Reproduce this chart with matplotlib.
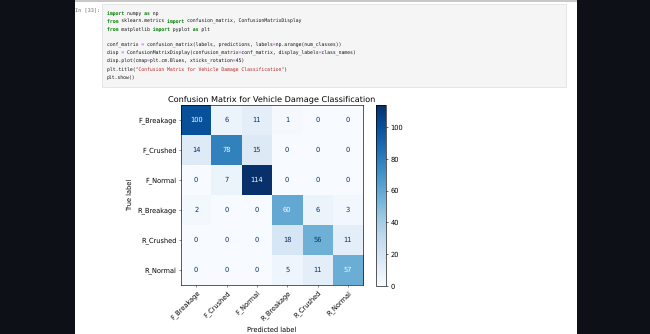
import re
import numpy as np
import matplotlib
matplotlib.use("Agg")
import matplotlib.pyplot as plt
from matplotlib.patches import Rectangle

plt.rcParams["text.hinting"] = "none"

# data
class_names = ["F_Breakage", "F_Crushed", "F_Normal", "R_Breakage", "R_Crushed", "R_Normal"]
row_f_breakage = [100, 6, 11, 1, 0, 0]
row_f_crushed = [14, 78, 15, 0, 0, 0]
row_f_normal = [0, 7, 114, 0, 0, 0]
row_r_breakage = [2, 0, 0, 60, 6, 3]
row_r_crushed = [0, 0, 0, 18, 56, 11]
row_r_normal = [0, 0, 0, 5, 11, 57]
cbar_ticks = [0, 20, 40, 60, 80, 100]

code_lines = [
    "import numpy as np",
    "from sklearn.metrics import confusion_matrix, ConfusionMatrixDisplay",
    "from matplotlib import pyplot as plt",
    "",
    "conf_matrix = confusion_matrix(labels, predictions, labels=np.arange(num_classes))",
    "disp = ConfusionMatrixDisplay(confusion_matrix=conf_matrix, display_labels=class_names)",
    "disp.plot(cmap=plt.cm.Blues, xticks_rotation=45)",
    'plt.title("Confusion Matrix for Vehicle Damage Classification")',
    "plt.show()",
]
prompt = "In [33]:"

W, H = 650, 334
fig = plt.figure(figsize=(W / 100, H / 100), dpi=100, facecolor="#0d1117")


def px_box(x0, y0, x1, y1):
    # pixel box (top-left origin) -> figure fraction rect
    return [x0 / W, 1 - y1 / H, (x1 - x0) / W, (y1 - y0) / H]


# notebook page + code cell
fig.patches.append(Rectangle((75 / W, 0), (577 - 75) / W, 1, transform=fig.transFigure,
                             facecolor="white", edgecolor="none", zorder=-3))
fig.patches.append(Rectangle((75 / W, 1 - 2 / H), (577 - 75) / W, 2 / H, transform=fig.transFigure,
                             facecolor="#c8c8c8", edgecolor="none", zorder=-2))
fig.patches.append(Rectangle((102 / W, 1 - 87 / H), (566 - 102) / W, (87 - 4) / H,
                             transform=fig.transFigure, facecolor="#f5f5f5",
                             edgecolor="#e3e3e3", linewidth=0.6, zorder=-2))

fig.text(100 / W, 1 - 12 / H, prompt, ha="right", va="baseline", fontsize=3.8,
         family="DejaVu Sans Mono", color="#6b6b6b")

# syntax colouring: one text per colour, other characters blanked with spaces,
# so every layer shares the same monospace layout
code_fs = 3.45
keywords = {"import", "from", "as"}
token_re = re.compile(r'("[^"]*"|\w+|=|.)')
styles = {
    "plain": dict(color="#111111", fontweight="normal"),
    "kw": dict(color="#008000", fontweight="bold"),
    "str": dict(color="#ba2121", fontweight="normal"),
    "op": dict(color="#aa22ff", fontweight="normal"),
}

for i, line in enumerate(code_lines):
    if not line:
        continue
    layers = {k: "" for k in styles}
    for tok in token_re.findall(line):
        if tok in keywords:
            kind = "kw"
        elif tok.startswith('"'):
            kind = "str"
        elif tok == "=":
            kind = "op"
        else:
            kind = "plain"
        for k in layers:
            layers[k] += tok if k == kind else " " * len(tok)
    y = 1 - (14.5 + i * 8.0) / H
    for k, s in layers.items():
        if s.strip():
            fig.text(107 / W, y, s, ha="left", va="baseline", fontsize=code_fs,
                     family="DejaVu Sans Mono", **styles[k])

# confusion matrix
cm = np.array([row_f_breakage, row_f_crushed, row_f_normal,
               row_r_breakage, row_r_crushed, row_r_normal])
n = len(class_names)
cmap = plt.cm.Blues
fs = 4.8

ax = fig.add_axes(px_box(181, 105, 363, 285))
im = ax.imshow(cm, cmap=cmap, interpolation="nearest", aspect="auto",
               vmin=cm.min(), vmax=cm.max())
thresh = (cm.max() + cm.min()) / 2.0
for r in range(n):
    for c in range(n):
        color = cmap(1.0) if cm[r, c] < thresh else cmap(0.0)
        ax.text(c, r, str(cm[r, c]), ha="center", va="center", fontsize=fs, color=color)

ax.set_xticks(np.arange(n))
ax.set_yticks(np.arange(n))
ax.set_xticklabels(class_names, rotation=45, ha="right", rotation_mode="anchor", fontsize=fs)
ax.set_yticklabels(class_names, fontsize=fs)
ax.tick_params(length=1.6, width=0.4, pad=1.5, color="#333333")
ax.set_xlabel("Predicted label", fontsize=fs, labelpad=3)
ax.set_ylabel("True label", fontsize=fs, labelpad=3)
ax.set_title("Confusion Matrix for Vehicle Damage Classification", fontsize=5.9, pad=2.5)
for sp in ax.spines.values():
    sp.set_linewidth(0.45)

cax = fig.add_axes(px_box(376, 105, 386, 286))
cb = fig.colorbar(im, cax=cax, ticks=cbar_ticks)
cb.outline.set_linewidth(0.45)
cax.tick_params(labelsize=fs, length=1.6, width=0.4, pad=1.5)

fig.savefig("out.png", dpi=100, facecolor=fig.get_facecolor())
